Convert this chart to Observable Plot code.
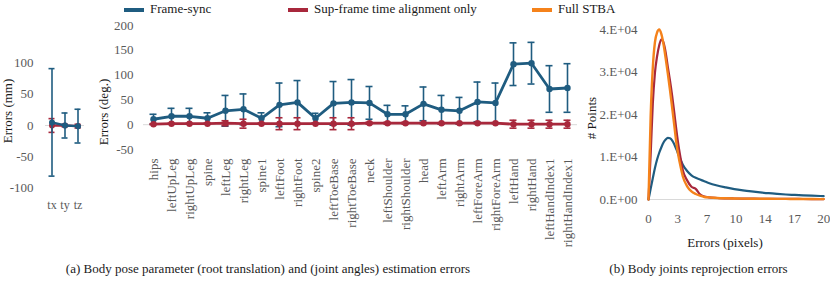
<!DOCTYPE html>
<html><head><meta charset="utf-8">
<script src="https://cdn.jsdelivr.net/npm/d3@7"></script>
<script src="https://cdn.jsdelivr.net/npm/@observablehq/plot@0.6"></script>
<style>
body{margin:0;background:#fff;}
#wrap{position:relative;width:830px;height:298px;overflow:hidden;font-family:"Liberation Serif","Times New Roman",serif;color:#1a1a1a;}
#wrap svg, #wrap svg text{font-family:"Liberation Serif","Times New Roman",serif !important;}
.p{position:absolute;top:0;}
.t{position:absolute;font-size:13px;line-height:18px;white-space:nowrap;}
.c{transform:translateX(-50%);}
.r{transform:translate(-50%,-50%) rotate(-90deg);}
.sw{position:absolute;width:20px;height:4px;}
</style></head><body><div id="wrap"></div>
<script>
// ---- data ----
const seriesNames = ["Frame-sync", "Sup-frame time alignment only", "Full STBA"];
const seriesColors = ["#1f5c80", "#a8283c", "#f5821b"];

const rootAxes = ["tx", "ty", "tz"];
const rootFrameMean = [5, 0, -1];
const rootFrameSd = [86, 20, 27];
const rootSupMean = [0, 0, -1];
const rootSupSd = [11, 2, 3];
const rootYTicks = [100, 50, 0, -50, -100];

const joints = ["hips","leftUpLeg","rightUpLeg","spine","leftLeg","rightLeg","spine1","leftFoot","rightFoot","spine2","leftToeBase","rightToeBase","neck","leftShoulder","rightShoulder","head","leftArm","rightArm","leftForeArm","rightForeArm","leftHand","rightHand","leftHandIndex1","rightHandIndex1"];
const jointFrameMean = [11,17,17,13,28,31,13,40,45,13,43,45,44,21,21,42,30,28,46,44,122,124,72,74];
const jointFrameSd   = [10,16,16,11,31,31,11,44,44,10,44,46,33,18,17,34,29,27,40,40,43,42,47,49];
const jointSupMean   = [1,2,2,2,3,2,2,2,2,2,2,2,3,3,3,3,3,3,3,3,1,1,1,1];
const jointSupSd     = [1,1,1,1,5,9,1,12,12,1,12,12,2,2,2,1,1,1,1,1,8,8,8,8];
const jointYTicks = [200, 150, 100, 50, 0, -50];

const reprojErr = [0,0.25,0.5,0.75,1,1.25,1.5,1.75,2,2.25,2.5,2.75,3,3.25,3.5,3.75,4,4.5,5,5.5,6,6.5,7,8,9,10,11,12,13,14,15,16,17,18,19,20,20.4];
const reprojFrame = [0,2500,5000,7400,9400,11000,12300,13400,14100,14500,14400,13900,13000,11800,10500,9300,8200,6700,5700,5100,4700,4300,3900,3300,2850,2450,2150,1900,1680,1480,1320,1180,1070,970,890,820,790];
const reprojSup   = [0,10500,22500,29800,33700,36300,37700,36900,34600,31200,28000,24500,20500,16300,12600,9600,6900,4500,3000,2500,1200,700,500,350,280,240,210,190,170,160,150,140,130,120,110,100,100];
const reprojFull  = [0,19500,31000,37000,39300,40000,38900,36500,33200,29600,25800,21700,17500,13300,10100,7600,5400,3100,1900,1300,900,600,500,350,280,240,210,190,170,160,150,140,130,120,110,100,100];
const reprojXTicks = [0, 3.4, 6.8, 10.2, 13.6, 17.0, 20.4];
const reprojXTickLabels = ["0","3","7","10","14","17","20"];
const reprojYTicks = [0, 10000, 20000, 30000, 40000];
const reprojYTickLabels = ["0.E+00","1.E+04","2.E+04","3.E+04","4.E+04"];

// ---- helpers ----
const wrap = document.getElementById("wrap");
const FONT = '"Liberation Serif", "Times New Roman", serif';
const TICKCOL = "#595959";
const plain = d => String(d);
function baseStyle(){ return {fontFamily: FONT, fontSize: "13px", color: TICKCOL, background: "transparent", overflow: "visible"}; }

function errMarks(rows, color, lw, r, inset){
  return [
    Plot.ruleX(rows, {x: "k", y1: d => d.mean - d.sd, y2: d => d.mean + d.sd, stroke: color, strokeWidth: 1.6}),
    Plot.tickY(rows, {x: "k", y: d => d.mean + d.sd, stroke: color, strokeWidth: 1.6, insetLeft: inset, insetRight: inset}),
    Plot.tickY(rows, {x: "k", y: d => d.mean - d.sd, stroke: color, strokeWidth: 1.6, insetLeft: inset, insetRight: inset}),
    Plot.line(rows, {x: "k", y: "mean", stroke: color, strokeWidth: lw}),
    Plot.dot(rows, {x: "k", y: "mean", fill: color, r: r})
  ];
}
function rows(keys, mean, sd){ return keys.map((k, i) => ({k, mean: mean[i], sd: sd[i]})); }

function place(el, left){ el.classList.add("p"); el.style.left = left + "px"; wrap.appendChild(el); }

// ---- left panel: root translation ----
const leftPlot = Plot.plot({
  width: 90, height: 220, marginLeft: 45, marginRight: 6, marginTop: 62.5, marginBottom: 32.5,
  style: baseStyle(),
  x: {type: "band", domain: rootAxes, padding: 0},
  y: {domain: [-100, 100]},
  marks: [
    Plot.ruleY([0], {stroke: "#d9d9d9", strokeWidth: 1}),
    Plot.axisY({ticks: rootYTicks, tickFormat: plain, tickSize: 0, tickPadding: 12, label: null, fill: TICKCOL}),
    Plot.axisX({tickSize: 0, tickPadding: 12, label: null, fontSize: 12, fill: TICKCOL}),
    ...errMarks(rows(rootAxes, rootSupMean, rootSupSd), seriesColors[1], 2.5, 3, 3.5),
    ...errMarks(rows(rootAxes, rootFrameMean, rootFrameSd), seriesColors[0], 2.5, 3, 3.5)
  ]
});
place(leftPlot, 0);

// ---- middle panel: joint angles ----
const midPlot = Plot.plot({
  width: 500, height: 260, marginLeft: 53, marginRight: 13, marginTop: 25, marginBottom: 111,
  style: baseStyle(),
  x: {type: "band", domain: joints, padding: 0},
  y: {domain: [-50, 200]},
  marks: [
    Plot.ruleY([0], {stroke: "#d9d9d9", strokeWidth: 1}),
    Plot.axisY({ticks: jointYTicks, tickFormat: plain, tickSize: 0, tickPadding: 10, label: null, fill: TICKCOL}),
    Plot.axisX({tickRotate: -90, tickSize: 0, tickPadding: 9, label: null, fill: TICKCOL}),
    ...errMarks(rows(joints, jointFrameMean, jointFrameSd), seriesColors[0], 2.8, 3.2, 5.5),
    ...errMarks(rows(joints, jointSupMean, jointSupSd), seriesColors[1], 2.8, 3.2, 5.5)
  ]
});
place(midPlot, 90);

// ---- right panel: reprojection errors ----
const curve = (vals) => reprojErr.map((e, i) => ({e, n: vals[i]}));
const rightPlot = Plot.plot({
  width: 240, height: 260, marginLeft: 58, marginRight: 6, marginTop: 29, marginBottom: 61,
  style: baseStyle(),
  x: {domain: [0, 20.5]},
  y: {domain: [0, 40000]},
  marks: [
    Plot.ruleY([0], {stroke: "#d9d9d9", strokeWidth: 1}),
    Plot.axisY({ticks: reprojYTicks, tickFormat: d => reprojYTickLabels[reprojYTicks.indexOf(d)], tickSize: 0, tickPadding: 11, label: null, fill: TICKCOL}),
    Plot.axisX({ticks: reprojXTicks, tickFormat: d => reprojXTickLabels[reprojXTicks.indexOf(d)], tickSize: 0, tickPadding: 14, label: null, fill: TICKCOL}),
    Plot.line(curve(reprojFrame), {x: "e", y: "n", stroke: seriesColors[0], strokeWidth: 2.2, curve: "monotone-x"}),
    Plot.line(curve(reprojSup), {x: "e", y: "n", stroke: seriesColors[1], strokeWidth: 2.2, curve: "monotone-x"}),
    Plot.line(curve(reprojFull), {x: "e", y: "n", stroke: seriesColors[2], strokeWidth: 2.4, curve: "monotone-x"})
  ]
});
place(rightPlot, 590);

// ---- text: titles, legend, captions ----
function text(str, left, top, cls){
  const d = document.createElement("div");
  d.className = "t" + (cls ? " " + cls : "");
  d.textContent = str;
  d.style.left = left + "px"; d.style.top = top + "px";
  wrap.appendChild(d);
  return d;
}
text("Errors (mm)", 8, 111, "r");
text("Errors (deg.)", 103.5, 111.5, "r");
text("# Points", 592, 118, "r");
text("Errors (pixels)", 725, 234, "c");
text("(a) Body pose parameter (root translation) and (joint angles) estimation errors", 268, 260, "c");
text("(b) Body joints reprojection errors", 698.5, 260, "c");

const legendX = [124, 288, 532];
seriesNames.forEach((name, i) => {
  const s = document.createElement("div");
  s.className = "sw";
  s.style.left = legendX[i] + "px"; s.style.top = "7.5px"; s.style.background = seriesColors[i];
  wrap.appendChild(s);
  text(name, legendX[i] + 26, 0);
});
</script>
</body></html>
